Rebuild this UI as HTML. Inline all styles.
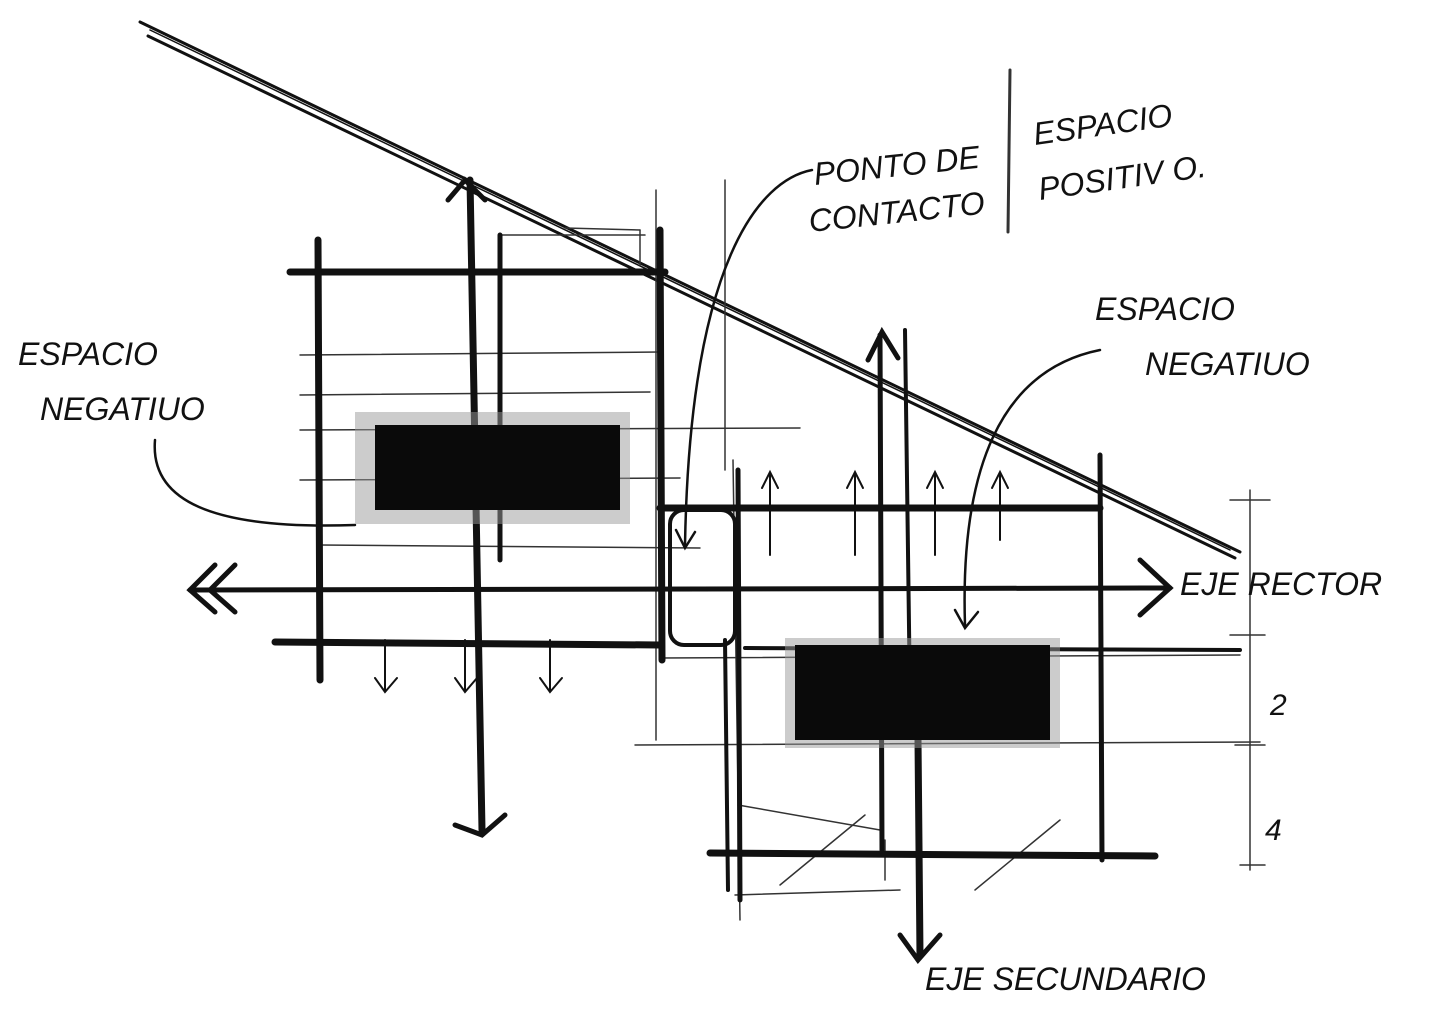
<!DOCTYPE html>
<html><head><meta charset="utf-8"><style>
html,body{margin:0;padding:0;background:#fff;}
svg{display:block;}
text{font-family:"Liberation Sans",sans-serif;fill:#111;font-style:italic;}
</style></head><body>
<svg width="1431" height="1022" viewBox="0 0 1431 1022" xmlns="http://www.w3.org/2000/svg">
<g stroke="#111" fill="none" stroke-linecap="round">
<!-- diagonal double line -->
<line x1="140" y1="22" x2="1240" y2="552" stroke-width="3"/>
<line x1="148" y1="36" x2="1235" y2="558" stroke-width="3"/>
<line x1="150" y1="30" x2="1230" y2="550" stroke-width="1.5"/>
<!-- thin guide lines -->
<g stroke-width="1.5" stroke="#333">
<line x1="300" y1="355" x2="660" y2="352"/>
<line x1="300" y1="395" x2="650" y2="392"/>
<line x1="300" y1="430" x2="800" y2="428"/>
<line x1="300" y1="480" x2="680" y2="478"/>
<line x1="320" y1="545" x2="700" y2="548"/>
<line x1="635" y1="745" x2="1260" y2="742"/>
<line x1="660" y1="658" x2="1240" y2="655"/>
<line x1="1250" y1="490" x2="1250" y2="870"/>
<line x1="1230" y1="500" x2="1270" y2="500"/>
<line x1="1230" y1="635" x2="1265" y2="635"/>
<line x1="1235" y1="745" x2="1265" y2="745"/>
<line x1="1240" y1="865" x2="1265" y2="865"/>
<line x1="735" y1="895" x2="900" y2="890"/>
<line x1="738" y1="805" x2="880" y2="830"/>
<line x1="780" y1="885" x2="865" y2="815"/>
<line x1="975" y1="890" x2="1060" y2="820"/>
<line x1="656" y1="190" x2="656" y2="740"/>
<line x1="725" y1="180" x2="725" y2="470"/>
<line x1="733" y1="460" x2="740" y2="920"/>
<line x1="885" y1="840" x2="885" y2="880"/>
<line x1="1010" y1="70" x2="1008" y2="232" stroke-width="3"/>
<line x1="500" y1="235" x2="645" y2="235"/>
<line x1="565" y1="228" x2="640" y2="230"/>
<line x1="640" y1="230" x2="640" y2="265"/>
</g>
<!-- thick horizontals -->
<g stroke-width="7">
<line x1="290" y1="272" x2="665" y2="272"/>
<line x1="275" y1="642" x2="660" y2="645"/>
<line x1="745" y1="648" x2="1240" y2="650" stroke-width="4"/>
<line x1="660" y1="508" x2="1100" y2="508"/>
<line x1="190" y1="590" x2="1170" y2="588" stroke-width="5"/>
<line x1="710" y1="853" x2="1155" y2="856"/>
</g>
<!-- thick verticals -->
<g stroke-width="7">
<line x1="318" y1="240" x2="320" y2="680"/>
<line x1="470" y1="180" x2="482" y2="830"/>
<line x1="500" y1="235" x2="500" y2="560" stroke-width="5"/>
<line x1="660" y1="230" x2="662" y2="660"/>
<line x1="738" y1="470" x2="740" y2="900" stroke-width="5"/>
<line x1="880" y1="335" x2="882" y2="850" stroke-width="5"/>
<line x1="905" y1="330" x2="910" y2="700" stroke-width="4"/>
<line x1="918" y1="740" x2="920" y2="955"/>
<line x1="1100" y1="455" x2="1102" y2="860" stroke-width="5"/>
<line x1="725" y1="640" x2="728" y2="890" stroke-width="4"/>
</g>
<!-- arrowheads -->
<g stroke-width="5">
<polyline points="215,565 190,590 215,612"/>
<polyline points="235,565 210,590 235,612"/>
<polyline points="1140,560 1170,588 1140,615"/>
<polyline points="455,825 482,835 505,815"/>
<polyline points="868,360 882,332 898,358"/>
<polyline points="900,935 918,960 940,935"/>
<polyline points="448,200 465,180 485,200"/>
</g>
<g stroke-width="2">
<line x1="770" y1="555" x2="770" y2="475"/><polyline points="762,488 770,472 778,488"/>
<line x1="855" y1="555" x2="855" y2="475"/><polyline points="847,488 855,472 863,488"/>
<line x1="935" y1="555" x2="935" y2="475"/><polyline points="927,488 935,472 943,488"/>
<line x1="1000" y1="540" x2="1000" y2="475"/><polyline points="992,488 1000,472 1008,488"/>
<line x1="385" y1="640" x2="385" y2="690"/><polyline points="375,678 385,692 397,678"/>
<line x1="465" y1="640" x2="465" y2="690"/><polyline points="455,678 465,692 477,678"/>
<line x1="550" y1="640" x2="550" y2="690"/><polyline points="540,678 550,692 562,678"/>
</g>
<!-- rounded rect -->
<rect x="670" y="510" width="65" height="135" rx="14" stroke-width="4"/>
<!-- leader curves -->
<path d="M812 170 C760 180 690 260 685 545" stroke-width="2.5"/>
<polyline points="676,530 685,548 695,532" stroke-width="2.5"/>
<path d="M1100 350 C1000 370 960 470 965 625" stroke-width="2.5"/>
<polyline points="955,610 965,628 978,612" stroke-width="2.5"/>
<path d="M155 440 C150 500 210 530 355 525" stroke-width="2.5"/>
</g>
<!-- black blocks -->
<rect x="355" y="412" width="275" height="112" fill="#999" opacity="0.5"/>
<rect x="375" y="425" width="245" height="85" fill="#0a0a0a"/>
<rect x="785" y="638" width="275" height="110" fill="#999" opacity="0.5"/>
<rect x="795" y="645" width="255" height="95" fill="#0a0a0a"/>
<!-- labels -->
<text x="18" y="365" font-size="32">ESPACIO</text>
<text x="40" y="420" font-size="32">NEGATIUO</text>
<text x="815" y="185" font-size="32" transform="rotate(-6 815 185)">PONTO DE</text>
<text x="810" y="232" font-size="32" transform="rotate(-6 810 232)">CONTACTO</text>
<text x="1035" y="145" font-size="32" transform="rotate(-8 1035 145)">ESPACIO</text>
<text x="1040" y="200" font-size="32" transform="rotate(-8 1040 200)">POSITIV O.</text>
<text x="1095" y="320" font-size="32">ESPACIO</text>
<text x="1145" y="375" font-size="32">NEGATIUO</text>
<text x="1180" y="595" font-size="32">EJE RECTOR</text>
<text x="1270" y="715" font-size="30">2</text>
<text x="1265" y="840" font-size="30">4</text>
<text x="925" y="990" font-size="32">EJE SECUNDARIO</text>
</svg>
</body></html>
